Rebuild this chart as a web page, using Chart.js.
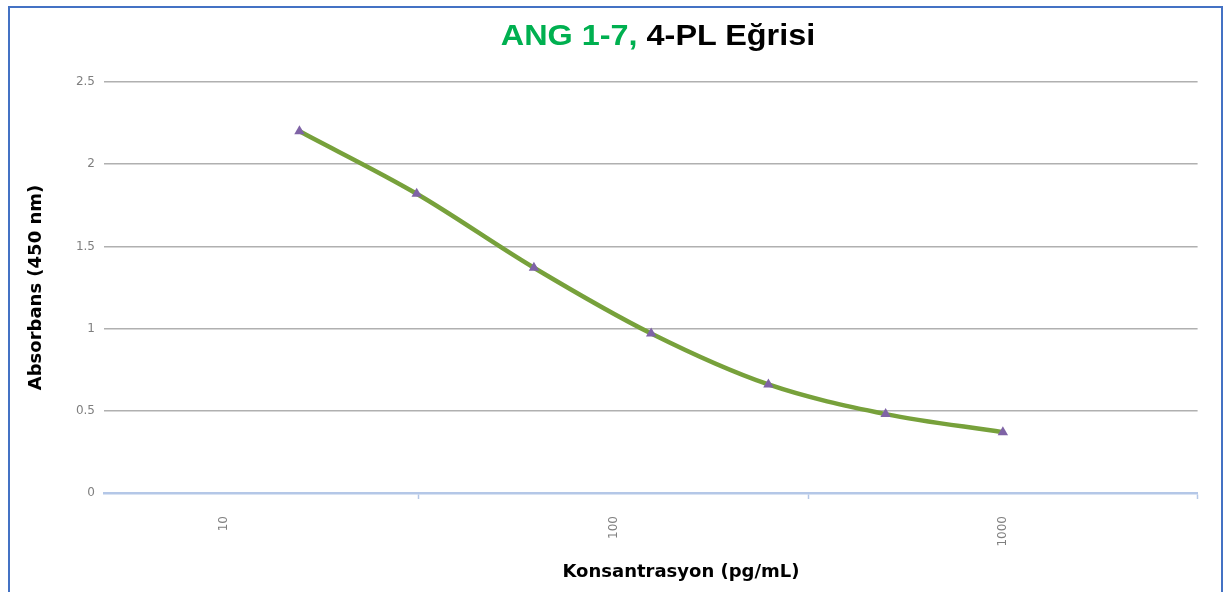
<!DOCTYPE html>
<html lang="tr">
<head>
<meta charset="utf-8">
<title>ANG 1-7, 4-PL Eğrisi</title>
<script src="https://cdn.jsdelivr.net/npm/chart.js@4/dist/chart.umd.min.js"></script>
<style>
  html, body { margin: 0; padding: 0; background: #fff; }
  body { width: 1229px; height: 592px; position: relative; overflow: hidden; }
  #curveChart { position: absolute; left: 0; top: 0; }
  #frame {
    position: absolute; left: 8px; top: 6px; width: 1215px; height: 700px;
    border: 2px solid #4472C4; box-sizing: border-box; pointer-events: none;
  }
  #title {
    position: absolute; left: 658px; top: 20px; transform: translateX(-50%) scaleX(1.08);
    font: bold 30px "Liberation Sans", Arial, sans-serif; line-height: 30px;
    color: #000; white-space: nowrap;
  }
  #title .green { color: #00B050; }
  #xtitle {
    position: absolute; left: 681px; top: 561px; transform: translateX(-50%);
    font: bold 18px "DejaVu Sans", sans-serif; line-height: 20px;
    color: #000; white-space: nowrap;
  }
</style>
</head>
<body>
<canvas id="curveChart" width="1229" height="592"></canvas>
<div id="frame"></div>
<div id="title"><span class="green">ANG 1-7,</span> 4-PL Eğrisi</div>
<div id="xtitle">Konsantrasyon (pg/mL)</div>

<script>
// standart konsantrasyonlar (pg/mL) ve okunan absorbans degerleri
const concentrations = [15.625, 31.25, 62.5, 125, 250, 500, 1000];
const absorbance = [2.20, 1.82, 1.37, 0.97, 0.66, 0.48, 0.37];

const xLabelTicks = [10, 100, 1000];
const xMinorTicks = [31.62, 316.2, 3162.28];
const yTicks = [0, 0.5, 1, 1.5, 2, 2.5];

const LINE_GREEN = '#77A13B';
const POINT_PURPLE = '#7F63A6';
const GRID_GRAY = '#B0B0B0';
const AXIS_BLUE = '#B4C7E7';
const TICK_GRAY = '#7F7F7F';

let curveChart;

function initChart() {
  const ctx = document.getElementById('curveChart');
  const points = concentrations.map((c, i) => ({ x: c, y: absorbance[i] }));

  if (curveChart) curveChart.destroy();
  curveChart = new Chart(ctx, {
    type: 'line',
    data: {
      datasets: [{
        label: 'ANG 1-7',
        data: points,
        borderColor: LINE_GREEN,
        borderWidth: 4.5,
        cubicInterpolationMode: 'monotone',
        pointStyle: 'triangle',
        pointRadius: 6,
        pointBackgroundColor: POINT_PURPLE,
        pointBorderWidth: 0,
        fill: false,
      }],
    },
    options: {
      responsive: false,
      animation: false,
      devicePixelRatio: 1,
      layout: { padding: { left: 10, right: 29, top: 82, bottom: 0 } },
      plugins: {
        legend: { display: false },
        tooltip: { enabled: false },
      },
      scales: {
        x: {
          type: 'logarithmic',
          min: 4.92,
          max: 3162.28,
          afterBuildTicks: (scale) => {
            scale.ticks = [...xLabelTicks, ...xMinorTicks]
              .sort((a, b) => a - b)
              .map((v) => ({ value: v }));
          },
          afterFit: (scale) => { scale.height = 99; },
          border: { color: AXIS_BLUE, width: 2.5 },
          grid: {
            drawOnChartArea: false,
            drawTicks: true,
            tickLength: 6,
            tickWidth: 1.5,
            tickColor: (c) => (xLabelTicks.includes(c.tick?.value) ? 'rgba(0,0,0,0)' : AXIS_BLUE),
          },
          ticks: {
            autoSkip: false,
            minRotation: 90,
            maxRotation: 90,
            padding: 17,
            color: TICK_GRAY,
            font: { family: '"DejaVu Sans", sans-serif', size: 12 },
            callback: (v) => (xLabelTicks.includes(v) ? String(v) : ''),
          },
        },
        y: {
          min: 0,
          max: 2.5,
          afterBuildTicks: (scale) => {
            scale.ticks = yTicks.map((v) => ({ value: v }));
          },
          afterFit: (scale) => { scale.width = 94; },
          border: { display: false },
          grid: {
            drawTicks: false,
            lineWidth: 1.5,
            color: (c) => (c.tick?.value === 0 ? 'rgba(0,0,0,0)' : GRID_GRAY),
          },
          ticks: {
            padding: 9,
            color: TICK_GRAY,
            font: { family: '"DejaVu Sans", sans-serif', size: 12 },
            callback: (v) => String(v),
          },
          title: {
            display: true,
            text: 'Absorbans (450 nm)',
            color: '#000',
            padding: { top: 16, bottom: 0 },
            font: { family: '"DejaVu Sans", sans-serif', size: 18, weight: 'bold' },
          },
        },
      },
    },
  });
}

document.addEventListener('DOMContentLoaded', initChart);
</script>
</body>
</html>
